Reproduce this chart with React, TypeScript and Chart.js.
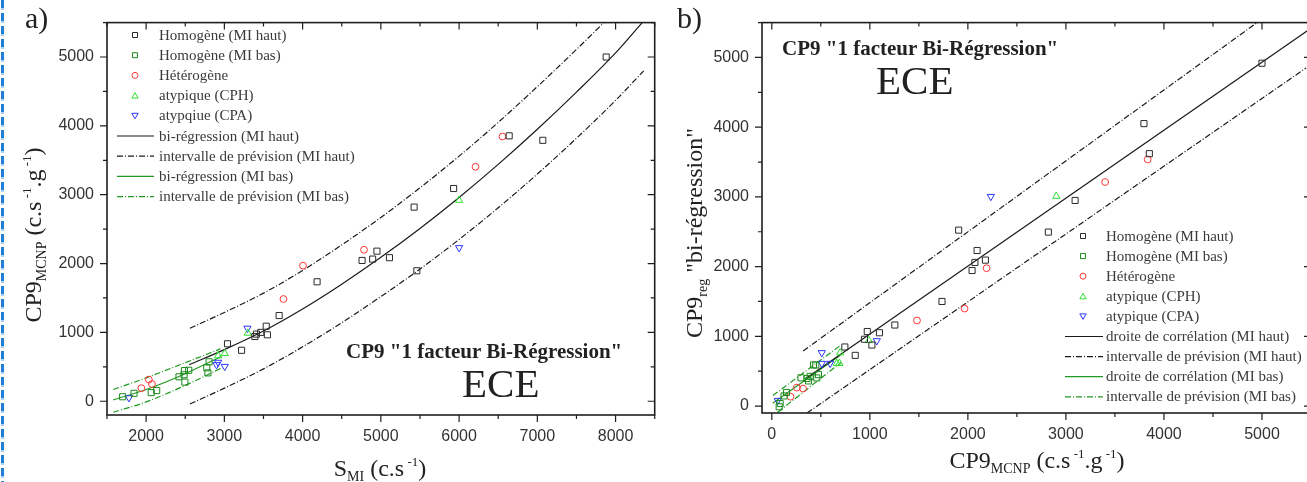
import React, { useEffect, useRef } from 'react';
import { Chart, registerables } from 'chart.js';
Chart.register(...registerables);

type P = [number, number];

const SANS = '"Liberation Sans", Arial, sans-serif';
const SERIF = '"Liberation Serif", "Times New Roman", serif';

// ---------------- Panel a) ----------------
const aXTicks = [2000, 3000, 4000, 5000, 6000, 7000, 8000];
const aYTicks = [0, 1000, 2000, 3000, 4000, 5000];
const aXRange = [1500, 8500];
const aYRange = [-200, 5500];

const aHomHaut: P[] = [[3040, 835], [3220, 740], [3390, 940], [3410, 975], [3465, 1000], [3550, 965], [3535, 1090], [3700, 1245], [4185, 1735], [4760, 2045], [4895, 2065], [4950, 2180], [5110, 2085], [5425, 2820], [5460, 1895], [5930, 3090], [6640, 3855], [7070, 3790], [7880, 5000]];
const aHomBas: P[] = [[1700, 65], [1845, 115], [2065, 125], [2135, 155], [2420, 355], [2490, 445], [2545, 450], [2495, 278], [2485, 385], [2775, 485], [2790, 412], [2805, 573]];
const aHet: P[] = [[1940, 190], [2035, 315], [2075, 250], [3755, 1485], [4005, 1970], [4785, 2200], [6210, 3405], [6555, 3845]];
const aCPH: P[] = [[2920, 660], [3005, 695], [3300, 990], [6000, 2920]];
const aCPA: P[] = [[1780, 50], [2900, 530], [2920, 565], [3005, 505], [3295, 1060], [6000, 2230]];

const aRegHautX = [2550, 3000, 3500, 4000, 4500, 5000, 5500, 6000, 6500, 7000, 7500, 8000, 8340];
const aRegHautY = [530, 750, 1020, 1340, 1700, 2090, 2510, 2960, 3440, 3950, 4490, 5060, 5500];
const aPredHautUpX = [2560, 3000, 3500, 4000, 4500, 5000, 5500, 6000, 6500, 7000, 7500, 7850];
const aPredHautUpY = [1060, 1290, 1570, 1900, 2270, 2670, 3100, 3560, 4050, 4570, 5110, 5500];
const aPredHautLoX = [2560, 3000, 3500, 4000, 4500, 5000, 5500, 6000, 6500, 7000, 7500, 8000, 8360];
const aPredHautLoY = [-40, 190, 470, 790, 1140, 1520, 1920, 2350, 2810, 3300, 3820, 4370, 4800];
const aRegBasX = [1580, 2000, 2500, 2960];
const aRegBasY = [20, 170, 400, 650];
const aPredBasUpX = [1580, 2000, 2500, 2950];
const aPredBasUpY = [170, 340, 560, 760];
const aPredBasLoX = [1580, 2000, 2500, 2960];
const aPredBasLoY = [-160, -10, 230, 480];

const aLabels = ['Homogène (MI haut)', 'Homogène (MI bas)', 'Hétérogène', 'atypique (CPH)', 'atypqiue (CPA)', 'bi-régression (MI haut)', 'intervalle de prévision (MI haut)', 'bi-régression (MI bas)', 'intervalle de prévision (MI bas)'];

// ---------------- Panel b) ----------------
const bXTicks = [0, 1000, 2000, 3000, 4000, 5000];
const bYTicks = [0, 1000, 2000, 3000, 4000, 5000];
const bXRange = [-100, 5500];
const bYRange = [-100, 5500];

const bHomHaut: P[] = [[745, 847], [851, 727], [945, 958], [974, 1069], [1021, 875], [1098, 1051], [1255, 1162], [1736, 1500], [1906, 2523], [2043, 1944], [2072, 2060], [2094, 2231], [2179, 2093], [2821, 2495], [3094, 2949], [3796, 4051], [3851, 3620], [5000, 4917]];
const bHomBas: P[] = [[75, -10], [85, 35], [125, 145], [150, 195], [298, 405], [375, 360], [391, 426], [425, 589], [449, 589], [459, 403], [476, 450], [360, 395]];
const bHet: P[] = [[191, 134], [255, 264], [319, 250], [1481, 1227], [1966, 1398], [2191, 1977], [3400, 3213], [3834, 3537]];
const bCPH: P[] = [[663, 612], [690, 612], [697, 764], [990, 940], [2902, 3009]];
const bCPA: P[] = [[61, 79], [510, 764], [510, 611], [595, 611], [1071, 936], [2234, 3005]];

const bRegHautX = [350, 5500];
const bRegHautY = [400, 5420];
const bPredHautUpX = [320, 4950];
const bPredHautUpY = [790, 5500];
const bPredHautLoX = [360, 5450];
const bPredHautLoY = [-100, 4850];
const bRegBasX = [10, 700];
const bRegBasY = [40, 730];
const bPredBasUpX = [10, 700];
const bPredBasUpY = [150, 870];
const bPredBasLoX = [60, 710];
const bPredBasLoY = [-90, 630];

const bLabels = ['Homogène (MI haut)', 'Homogène (MI bas)', 'Hétérogène', 'atypique (CPH)', 'atypique (CPA)', 'droite de corrélation (MI haut)', 'intervalle de prévision (MI haut)', 'droite de corrélation (MI bas)', 'intervalle de prévision (MI bas)'];

// ---------------- styles ----------------
const C_BLACK = '#2a2a2a';
const C_GREEN_SQ = '#1a8a1a';
const C_RED = '#ff3535';
const C_LIME = '#2fe02f';
const C_BLUE = '#2a35ff';
const C_LINE_BLACK = '#1a1a1a';
const C_LINE_GREEN = '#229922';
const DASH = [6, 2, 1, 2];

const pts = (ps: P[]) => ps.map(([x, y]) => ({ x, y }));
const zip = (xs: number[], ys: number[]) => xs.map((x, i) => ({ x, y: ys[i] }));

const scatterDs = (label: string, data: P[], style: string, color: string, radius: number, rotation = 0) => ({
  label,
  legendLabel: label,
  data: pts(data),
  pointStyle: style,
  pointRadius: radius,
  pointRotation: rotation,
  borderColor: color,
  backgroundColor: 'rgba(0,0,0,0)',
  pointBorderWidth: 1,
  showLine: false,
  order: 0,
});

const lineDs = (label: string, xs: number[], ys: number[], color: string, dash: number[], legend = true) => ({
  label,
  legendLabel: legend ? label : undefined,
  data: zip(xs, ys),
  showLine: true,
  pointRadius: 0,
  borderColor: color,
  borderWidth: 1.2,
  borderDash: dash,
  backgroundColor: color,
  fill: false,
  cubicInterpolationMode: 'monotone',
  order: 1,
});

const framePlugin = {
  id: 'frame',
  afterDraw(chart: any) {
    const { ctx, chartArea: a, scales } = chart;
    const xs = scales.x;
    const ys = scales.y;
    const minors = (vals: number[], lo: number, hi: number) => {
      const step = vals[1] - vals[0];
      let s = vals[0] - step / 2;
      while (s - step >= lo) s -= step;
      const out: number[] = [];
      for (let v = s; v <= hi + 1e-6; v += step) if (v >= lo - 1e-6) out.push(v);
      return out;
    };
    const xMaj = xs.ticks.map((t: any) => t.value);
    const yMaj = ys.ticks.map((t: any) => t.value);
    const xMin = minors(xMaj, xs.min, xs.max);
    const yMin = minors(yMaj, ys.min, ys.max);
    ctx.save();
    ctx.strokeStyle = '#1e1e1e';
    ctx.lineWidth = 1.2;
    ctx.beginPath();
    const xt = (v: number, len: number) => {
      const p = xs.getPixelForValue(v);
      ctx.moveTo(p, a.bottom);
      ctx.lineTo(p, a.bottom + len);
      ctx.moveTo(p, a.top);
      ctx.lineTo(p, a.top + len);
    };
    const yt = (v: number, len: number) => {
      const p = ys.getPixelForValue(v);
      ctx.moveTo(a.left, p);
      ctx.lineTo(a.left - len, p);
      ctx.moveTo(a.right, p);
      ctx.lineTo(a.right - len, p);
    };
    xMaj.forEach((v: number) => xt(v, 7));
    xMin.forEach((v: number) => xt(v, 4));
    yMaj.forEach((v: number) => yt(v, 7));
    yMin.forEach((v: number) => yt(v, 4));
    ctx.stroke();
    ctx.lineWidth = 1.6;
    ctx.strokeRect(a.left, a.top, a.right - a.left, a.bottom - a.top);
    ctx.restore();
  },
};

const legendPlugin = {
  id: 'customLegend',
  afterDraw(chart: any, _args: any, opts: any) {
    if (!opts || opts.y0 === undefined) return;
    const ctx = chart.ctx;
    const items = chart.data.datasets.filter((d: any) => d.legendLabel);
    ctx.save();
    ctx.font = `15px ${SERIF}`;
    ctx.textBaseline = 'alphabetic';
    items.forEach((d: any, i: number) => {
      const y = opts.y0 + i * opts.dy;
      const cy = y - 4.5;
      ctx.setLineDash([]);
      if (d.showLine) {
        ctx.strokeStyle = d.borderColor;
        ctx.lineWidth = 1.2;
        ctx.setLineDash(d.borderDash || []);
        ctx.beginPath();
        ctx.moveTo(opts.lineX0, cy);
        ctx.lineTo(opts.lineX1, cy);
        ctx.stroke();
        ctx.setLineDash([]);
      } else {
        ctx.strokeStyle = d.borderColor;
        ctx.lineWidth = 1;
        const sx = opts.symX;
        ctx.beginPath();
        if (d.pointStyle === 'rect') {
          ctx.rect(sx - 2.5, cy - 2.5, 5, 5);
        } else if (d.pointStyle === 'circle') {
          ctx.arc(sx, cy, 3, 0, Math.PI * 2);
        } else if (d.pointRotation === 180) {
          ctx.moveTo(sx - 3.2, cy - 2.5);
          ctx.lineTo(sx + 3.2, cy - 2.5);
          ctx.lineTo(sx, cy + 3);
          ctx.closePath();
        } else {
          ctx.moveTo(sx - 3.2, cy + 2.5);
          ctx.lineTo(sx + 3.2, cy + 2.5);
          ctx.lineTo(sx, cy - 3);
          ctx.closePath();
        }
        ctx.stroke();
      }
      ctx.fillStyle = '#3a3a3a';
      ctx.fillText(d.legendLabel, opts.textX, y);
    });
    ctx.restore();
  },
};

function makeConfig(datasets: any[], xr: number[], yr: number[], xt: number[], yt: number[], yAxisW: number, xAxisH: number, padRight: number, legendOpts: any) {
  const tickFont = { family: SANS, size: 16 };
  return {
    type: 'scatter',
    data: { datasets },
    options: {
      animation: false,
      responsive: false,
      events: [],
      layout: { padding: { left: 0, right: padRight, top: 10, bottom: 0 } },
      plugins: { legend: { display: false }, tooltip: { enabled: false }, customLegend: legendOpts },
      scales: {
        x: {
          type: 'linear',
          min: xr[0],
          max: xr[1],
          afterBuildTicks: (s: any) => { s.ticks = xt.map((v) => ({ value: v })); },
          afterFit: (s: any) => { s.height = xAxisH; },
          grid: { display: false, drawTicks: false },
          border: { display: false },
          ticks: { padding: 12, color: '#333', font: tickFont, callback: (v: any) => String(v), maxRotation: 0, autoSkip: false },
        },
        y: {
          type: 'linear',
          min: yr[0],
          max: yr[1],
          afterBuildTicks: (s: any) => { s.ticks = yt.map((v) => ({ value: v })); },
          afterFit: (s: any) => { s.width = yAxisW; },
          grid: { display: false, drawTicks: false },
          border: { display: false },
          ticks: { padding: 13, color: '#333', font: tickFont, callback: (v: any) => String(v), autoSkip: false },
        },
      },
    },
    plugins: [framePlugin, legendPlugin],
  };
}

function datasetsFor(labels: string[], homHaut: P[], homBas: P[], het: P[], cph: P[], cpa: P[], lines: number[][]) {
  const [rhx, rhy, puhx, puhy, plhx, plhy, rbx, rby, pubx, puby, plbx, plby] = lines;
  return [
    scatterDs(labels[0], homHaut, 'rect', C_BLACK, 4.3),
    scatterDs(labels[1], homBas, 'rect', C_GREEN_SQ, 4.3),
    scatterDs(labels[2], het, 'circle', C_RED, 3.4),
    scatterDs(labels[3], cph, 'triangle', C_LIME, 4.2),
    scatterDs(labels[4], cpa, 'triangle', C_BLUE, 4.2, 180),
    lineDs(labels[5], rhx, rhy, C_LINE_BLACK, []),
    lineDs(labels[6], puhx, puhy, C_LINE_BLACK, DASH),
    lineDs(labels[6] + ' ', plhx, plhy, C_LINE_BLACK, DASH, false),
    lineDs(labels[7], rbx, rby, C_LINE_GREEN, []),
    lineDs(labels[8], pubx, puby, C_LINE_GREEN, DASH),
    lineDs(labels[8] + ' ', plbx, plby, C_LINE_GREEN, DASH, false),
  ];
}

export default function App() {
  const refA = useRef<HTMLCanvasElement>(null);
  const refB = useRef<HTMLCanvasElement>(null);

  useEffect(() => {
    const dsA = datasetsFor(aLabels, aHomHaut, aHomBas, aHet, aCPH, aCPA, [
      aRegHautX, aRegHautY, aPredHautUpX, aPredHautUpY, aPredHautLoX, aPredHautLoY,
      aRegBasX, aRegBasY, aPredBasUpX, aPredBasUpY, aPredBasLoX, aPredBasLoY,
    ]);
    const dsB = datasetsFor(bLabels, bHomHaut, bHomBas, bHet, bCPH, bCPA, [
      bRegHautX, bRegHautY, bPredHautUpX, bPredHautUpY, bPredHautLoX, bPredHautLoY,
      bRegBasX, bRegBasY, bPredBasUpX, bPredBasUpY, bPredBasLoX, bPredBasLoY,
    ]);
    const chartA = new Chart(refA.current as any, makeConfig(dsA, aXRange, aYRange, aXTicks, aYTicks, 107, 67, 4,
      { y0: 39.5, dy: 20.2, symX: 135, lineX0: 117, lineX1: 154, textX: 159 }) as any);
    const chartB = new Chart(refB.current as any, makeConfig(dsB, bXRange, bYRange, bXTicks, bYTicks, 112, 69, 9,
      { y0: 240.5, dy: 20.1, symX: 1083 - 650, lineX0: 1065 - 650, lineX1: 1103 - 650, textX: 1106 - 650 }) as any);
    return () => {
      chartA.destroy();
      chartB.destroy();
    };
  }, []);

  const titleColor = '#222';
  return (
    <div style={{ position: 'fixed', left: 0, top: 0, width: 1307, height: 482, overflow: 'hidden', background: '#fff' }}>
      <div style={{ position: 'absolute', left: 1, top: 0, width: 3, height: 482, background: 'repeating-linear-gradient(to bottom, #1f7fd6 0px, #1f7fd6 8px, #a9cff2 8px, #a9cff2 10px, #ffffff 10px, #ffffff 13px)' }} />
      <canvas ref={refA} width={660} height={482} style={{ position: 'absolute', left: 0, top: 0 }} />
      <canvas ref={refB} width={670} height={482} style={{ position: 'absolute', left: 650, top: 0 }} />
      <svg width={1307} height={482} style={{ position: 'absolute', left: 0, top: 0, pointerEvents: 'none' }}>
        <g fill={titleColor} fontFamily={SERIF}>
          <text x={25} y={28} fontSize={30}>a)</text>
          <text x={677} y={28} fontSize={30}>b)</text>

          <text transform="translate(41,235) rotate(-90)" textAnchor="middle" fontSize={24}>
            CP9<tspan fontSize={14} dy={5}>MCNP</tspan><tspan dy={-5}> (c.s</tspan><tspan fontSize={13} dy={-10}> -1</tspan><tspan dy={10}>.g</tspan><tspan fontSize={13} dy={-10}> -1</tspan><tspan dy={10}>)</tspan>
          </text>
          <text x={380} y={476} textAnchor="middle" fontSize={24}>
            S<tspan fontSize={14} dy={5}>MI</tspan><tspan dy={-5}> (c.s</tspan><tspan fontSize={13} dy={-10}> -1</tspan><tspan dy={10}>)</tspan>
          </text>

          <text transform="translate(702,233) rotate(-90)" textAnchor="middle" fontSize={24}>
            CP9<tspan fontSize={14} dy={5}>reg</tspan><tspan dy={-5}> "bi-régression"</tspan>
          </text>
          <text x={1037} y={468} textAnchor="middle" fontSize={24}>
            CP9<tspan fontSize={14} dy={5}>MCNP</tspan><tspan dy={-5}> (c.s</tspan><tspan fontSize={13} dy={-10}> -1</tspan><tspan dy={10}>.g</tspan><tspan fontSize={13} dy={-10}> -1</tspan><tspan dy={10}>)</tspan>
          </text>

          <text x={346} y={358} fontSize={21} fontWeight="bold">CP9 "1 facteur Bi-Régression"</text>
          <text x={462} y={397} fontSize={41}>ECE</text>
          <text x={782} y={55} fontSize={21} fontWeight="bold">CP9 "1 facteur Bi-Régression"</text>
          <text x={876} y={94} fontSize={41}>ECE</text>
        </g>
      </svg>
    </div>
  );
}
